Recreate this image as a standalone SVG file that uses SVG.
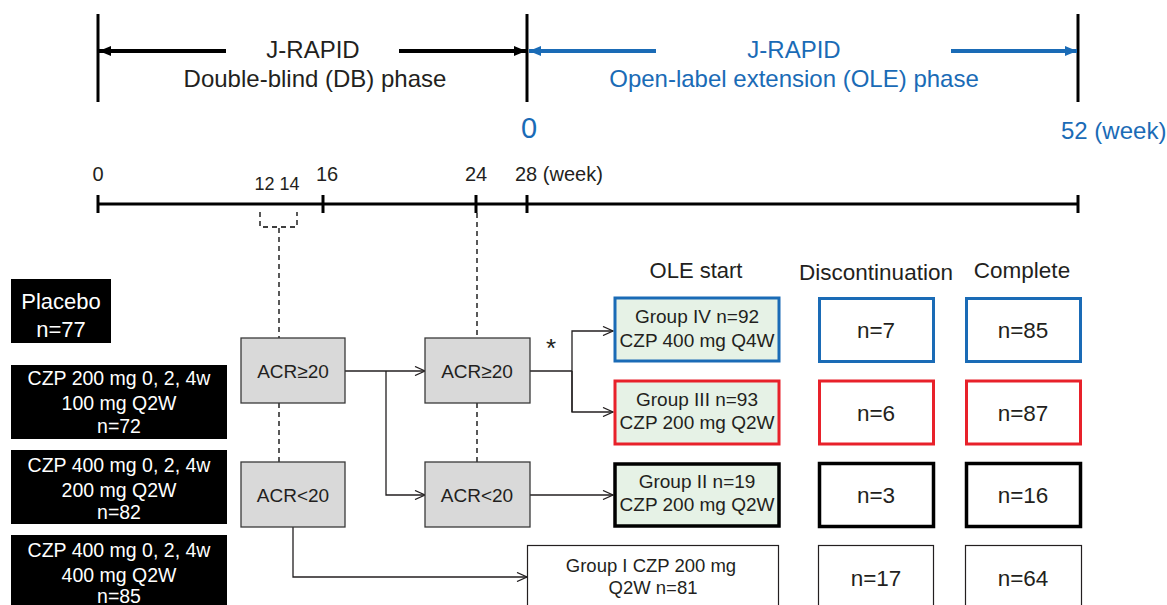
<svg xmlns="http://www.w3.org/2000/svg" width="1167" height="605" viewBox="0 0 1167 605">
<style>
text{font-family:"Liberation Sans",Arial,sans-serif;fill:#231f20}
.blue{fill:#1a6bb6}
.w{fill:#fff}
.mid{text-anchor:middle}
.axis{stroke:#000;stroke-width:3;fill:none}
.dash{stroke:#000;stroke-width:1.3;stroke-dasharray:5,4;fill:none}
.conn{stroke:#231f20;stroke-width:1.3;fill:none}
.blk{fill:#000}
.acr{fill:#d9d9d9;stroke:#3a3a3a;stroke-width:1.3}
.grp{fill:#e6f2e6}
.box{fill:#fff}
.t17{font-size:19px}
.num{font-size:22.5px}
</style>
<defs>
<marker id="triK" viewBox="0 0 12 10" refX="12" refY="5" markerWidth="12" markerHeight="10" markerUnits="userSpaceOnUse" orient="auto-start-reverse"><path d="M0,0L12,5L0,10z" fill="#000"/></marker>
<marker id="triB" viewBox="0 0 12 10" refX="12" refY="5" markerWidth="12" markerHeight="10" markerUnits="userSpaceOnUse" orient="auto-start-reverse"><path d="M0,0L12,5L0,10z" fill="#1a6bb6"/></marker>
<marker id="open" viewBox="0 0 12 10" refX="11" refY="5" markerWidth="12" markerHeight="10" markerUnits="userSpaceOnUse" orient="auto"><path d="M1,0.5L11,5L1,9.5" fill="none" stroke="#231f20" stroke-width="1.3"/></marker>
</defs>

<g id="phases">
<line class="axis" x1="98" y1="14" x2="98" y2="102"/>
<line class="axis" x1="527" y1="14" x2="527" y2="102"/>
<line class="axis" x1="1078" y1="14" x2="1078" y2="102"/>
<line x1="226" y1="51" x2="99" y2="51" stroke="#000" stroke-width="4" marker-end="url(#triK)"/>
<line x1="399" y1="51" x2="526" y2="51" stroke="#000" stroke-width="4" marker-end="url(#triK)"/>
<line x1="656" y1="51" x2="529" y2="51" stroke="#1a6bb6" stroke-width="4" marker-end="url(#triB)"/>
<line x1="951" y1="51" x2="1077" y2="51" stroke="#1a6bb6" stroke-width="4" marker-end="url(#triB)"/>
<text x="313" y="58" class="mid" font-size="24">J-RAPID</text>
<text x="315" y="87" class="mid" font-size="24">Double-blind (DB) phase</text>
<text x="794" y="58" class="mid blue" font-size="24">J-RAPID</text>
<text x="794" y="87" class="mid blue" font-size="24">Open-label extension (OLE) phase</text>
<text x="529" y="138" class="mid blue" font-size="29">0</text>
<text x="1061" y="139" class="blue" font-size="24">52 (week)</text>
</g>

<g id="timeline">
<line class="axis" x1="98" y1="204" x2="1078" y2="204"/>
<line class="axis" x1="98" y1="195" x2="98" y2="213"/>
<line class="axis" x1="323" y1="195" x2="323" y2="213"/>
<line class="axis" x1="476" y1="195" x2="476" y2="213"/>
<line class="axis" x1="527" y1="195" x2="527" y2="213"/>
<line class="axis" x1="1078" y1="195" x2="1078" y2="213"/>
<text x="98" y="181" class="mid" font-size="20">0</text>
<text x="277" y="190" class="mid" font-size="18">12 14</text>
<text x="327" y="181" class="mid" font-size="20">16</text>
<text x="476" y="181" class="mid" font-size="20">24</text>
<text x="515" y="181" font-size="20">28 (week)</text>
<path class="dash" d="M260,212V227H297V212"/>
</g>

<g id="connectors">
<line class="dash" x1="279" y1="228" x2="279" y2="338"/>
<line class="dash" x1="279" y1="403" x2="279" y2="462"/>
<line class="dash" x1="477" y1="213" x2="477" y2="338"/>
<line class="dash" x1="477" y1="403" x2="477" y2="462"/>
<path class="conn" d="M345,371H425" marker-end="url(#open)"/>
<path class="conn" d="M386,371V495H425" marker-end="url(#open)"/>
<path class="conn" d="M530,371H572"/>
<path class="conn" d="M572,412V331H613" marker-end="url(#open)"/>
<path class="conn" d="M572,371V412H613" marker-end="url(#open)"/>
<path class="conn" d="M530,495H613" marker-end="url(#open)"/>
<path class="conn" d="M293,527V577H527" marker-end="url(#open)"/>
<text x="551" y="357" class="mid" font-size="26">*</text>
</g>

<g id="placebo">
<rect class="blk" x="11" y="279" width="100" height="64"/>
<text x="61" y="309" class="mid w" font-size="22">Placebo</text>
<text x="61" y="337" class="mid w" font-size="22">n=77</text>
</g>
<g id="czp1">
<rect class="blk" x="11" y="365" width="216" height="74"/>
<text x="119" y="385" class="mid w" font-size="19.5">CZP 200 mg 0, 2, 4w</text>
<text x="119" y="410" class="mid w" font-size="19.5">100 mg Q2W</text>
<text x="119" y="433" class="mid w" font-size="19.5">n=72</text>
</g>
<g id="czp2">
<rect class="blk" x="11" y="450" width="216" height="74"/>
<text x="119" y="472" class="mid w" font-size="19.5">CZP 400 mg 0, 2, 4w</text>
<text x="119" y="497" class="mid w" font-size="19.5">200 mg Q2W</text>
<text x="119" y="519" class="mid w" font-size="19.5">n=82</text>
</g>
<g id="czp3">
<rect class="blk" x="11" y="535" width="216" height="75"/>
<text x="119" y="557" class="mid w" font-size="19.5">CZP 400 mg 0, 2, 4w</text>
<text x="119" y="582" class="mid w" font-size="19.5">400 mg Q2W</text>
<text x="119" y="603" class="mid w" font-size="19.5">n=85</text>
</g>

<g id="acr-ge20-16">
<rect class="acr" x="241" y="338" width="104" height="65"/>
<text x="293" y="378" class="mid t17">ACR≥20</text>
</g>
<g id="acr-lt20-16">
<rect class="acr" x="241" y="462" width="104" height="65"/>
<text x="293" y="502" class="mid t17">ACR&lt;20</text>
</g>
<g id="acr-ge20-24">
<rect class="acr" x="425" y="338" width="105" height="65"/>
<text x="477" y="378" class="mid t17">ACR≥20</text>
</g>
<g id="acr-lt20-24">
<rect class="acr" x="425" y="462" width="105" height="65"/>
<text x="477" y="502" class="mid t17">ACR&lt;20</text>
</g>

<g id="headers">
<text x="696" y="278" class="mid" font-size="22">OLE start</text>
<text x="876" y="280" class="mid" font-size="22.5">Discontinuation</text>
<text x="1022" y="278" class="mid" font-size="22.5">Complete</text>
</g>

<g id="group4">
<rect class="grp" x="615" y="298" width="164" height="63" stroke="#1a6bb6" stroke-width="3"/>
<text x="697" y="323" class="mid t17">Group IV n=92</text>
<text x="697" y="347" class="mid t17">CZP 400 mg Q4W</text>
</g>
<g id="group3">
<rect class="grp" x="615" y="381" width="164" height="63" stroke="#e8212a" stroke-width="3"/>
<text x="697" y="406" class="mid t17">Group III n=93</text>
<text x="697" y="429" class="mid t17">CZP 200 mg Q2W</text>
</g>
<g id="group2">
<rect class="grp" x="615" y="464" width="164" height="62" stroke="#000" stroke-width="3.5"/>
<text x="697" y="488" class="mid t17">Group II n=19</text>
<text x="697" y="511" class="mid t17">CZP 200 mg Q2W</text>
</g>
<g id="group1">
<rect class="box" x="527.5" y="545.5" width="251" height="70" stroke="#231f20" stroke-width="1.2"/>
<text x="651" y="572" class="mid" font-size="18.5">Group I CZP 200 mg</text>
<text x="653" y="594" class="mid" font-size="18.5">Q2W n=81</text>
</g>

<g id="disc4"><rect class="box" x="819.5" y="298.5" width="114" height="63" stroke="#1a6bb6" stroke-width="3"/><text x="876" y="338" class="mid num">n=7</text></g>
<g id="comp4"><rect class="box" x="966.5" y="298.5" width="114" height="63" stroke="#1a6bb6" stroke-width="3"/><text x="1023" y="338" class="mid num">n=85</text></g>
<g id="disc3"><rect class="box" x="819.5" y="381" width="114" height="63" stroke="#e8212a" stroke-width="3"/><text x="876" y="421" class="mid num">n=6</text></g>
<g id="comp3"><rect class="box" x="966.5" y="381" width="114" height="63" stroke="#e8212a" stroke-width="3"/><text x="1023" y="421" class="mid num">n=87</text></g>
<g id="disc2"><rect class="box" x="819.5" y="463.5" width="114" height="63" stroke="#000" stroke-width="3.5"/><text x="876" y="503" class="mid num">n=3</text></g>
<g id="comp2"><rect class="box" x="966.5" y="463.5" width="114" height="63" stroke="#000" stroke-width="3.5"/><text x="1023" y="503" class="mid num">n=16</text></g>
<g id="disc1"><rect class="box" x="818.5" y="545.5" width="115" height="70" stroke="#231f20" stroke-width="1.2"/><text x="876" y="586" class="mid num">n=17</text></g>
<g id="comp1"><rect class="box" x="965.5" y="545.5" width="116" height="70" stroke="#231f20" stroke-width="1.2"/><text x="1023" y="586" class="mid num">n=64</text></g>
</svg>
